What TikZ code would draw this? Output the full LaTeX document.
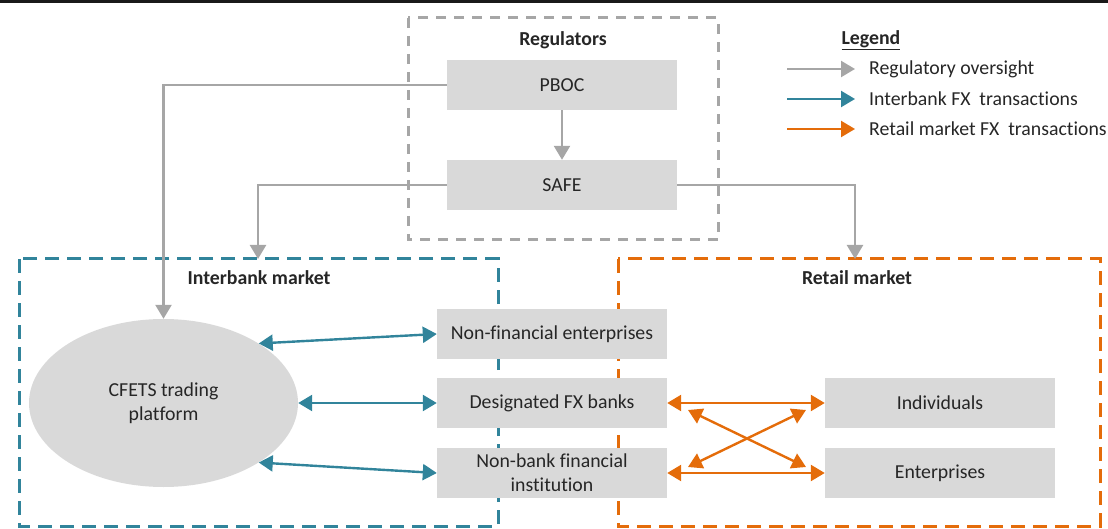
\documentclass[tikz,border=0pt]{standalone}
\usepackage{fontspec}
\setmainfont{Carlito}[Ligatures={NoCommon}]
\usetikzlibrary{arrows.meta,shapes.geometric}
\definecolor{grayarr}{HTML}{A6A6A6}
\definecolor{teal1}{HTML}{31849B}
\definecolor{orange1}{HTML}{E46C0A}
\definecolor{boxfill}{HTML}{D9D9D9}
\definecolor{txt}{HTML}{262626}
\tikzset{
  x=1pt,y=-1pt,
  every node/.style={font=\fontsize{19.8}{24}\selectfont,text=txt},
  gbox/.style={fill=boxfill,minimum width=230pt,minimum height=50pt,inner sep=0pt,align=center},
  lbl/.style={font=\fontsize{19.8}{24}\selectfont\bfseries},
  garr/.style={draw=grayarr,line width=2.4pt,-{Triangle[width=16pt,length=14pt]}},
  tarr/.style={draw=teal1,line width=2.4pt,{Triangle[width=16pt,length=14pt]}-{Triangle[width=16pt,length=14pt]}},
  oarr/.style={draw=orange1,line width=2.4pt,{Triangle[width=16pt,length=14pt]}-{Triangle[width=16pt,length=14pt]}},
  tlegend/.style={draw=teal1,line width=2.4pt,-{Triangle[width=16pt,length=14pt]}},
  olegend/.style={draw=orange1,line width=2.4pt,-{Triangle[width=16pt,length=14pt]}},
}
\begin{document}
\begin{tikzpicture}
\useasboundingbox (0,0) rectangle (1108,529);
\fill[black!90] (0,0) rectangle (1108,3);
% group frames
\draw[grayarr,line width=3pt,dash pattern=on 10pt off 8pt] (408,18) rectangle (718,240);
\draw[teal1,line width=3pt,dash pattern=on 14pt off 8pt] (19,259) rectangle (498,526);
\draw[orange1,line width=3pt,dash pattern=on 14pt off 8pt] (618,259) rectangle (1100,526);
\node[lbl] (regl) at (563,40) {Regulators};
\node[lbl] (ibl) at (259,278) {Interbank market};
\node[lbl] (rtl) at (857,278) {Retail market};
% boxes
\node[gbox] (pboc) at (562,85) {PBOC};
\node[gbox] (safe) at (562,185) {SAFE};
\node[ellipse,fill=boxfill,minimum width=269pt,minimum height=168pt,inner sep=0pt,align=center] (cfets) at (163.5,403) {CFETS trading\\platform};
\node[gbox] (nfe) at (552,334) {Non-financial enterprises};
\node[gbox] (dfx) at (552,403) {Designated FX banks};
\node[gbox] (nbfi) at (552,473) {Non-bank financial\\institution};
\node[gbox] (ind) at (940,403) {Individuals};
\node[gbox] (ent) at (940,473) {Enterprises};
% regulatory arrows
\coordinate (ibtop) at (258,259);
\coordinate (rttop) at (855,259);
\draw[garr] (pboc) -- (safe);
\draw[garr] (pboc.west) -| (cfets.north);
\draw[garr] (safe.west) -| (ibtop);
\draw[garr] (safe.east) -| (rttop);
% interbank
\draw[tarr] (cfets.32) -- (nfe.west);
\draw[tarr] (cfets.east) -- (dfx.west);
\draw[tarr] (cfets.-32) -- (nbfi.west);
% retail
\draw[oarr] (dfx.east) -- (ind.west);
\draw[oarr] (nbfi.east) -- (ent.west);
\coordinate (d1a) at (688,410);
\coordinate (d1b) at (806,467);
\coordinate (d2a) at (688,467);
\coordinate (d2b) at (806,410);
\draw[oarr] (d1a) -- (d1b);
\draw[oarr] (d2a) -- (d2b);
% legend
\node[lbl,anchor=west] (leg) at (838,40) {\underline{Legend}};
\coordinate (l1a) at (787,69); \coordinate (l1b) at (855,69);
\coordinate (l2a) at (787,99); \coordinate (l2b) at (855,99);
\coordinate (l3a) at (787,129); \coordinate (l3b) at (855,129);
\draw[garr] (l1a) -- (l1b);
\draw[tlegend] (l2a) -- (l2b);
\draw[olegend] (l3a) -- (l3b);
\node[anchor=west,inner sep=0pt] (t1) at (869,69) {Regulatory oversight};
\node[anchor=west,inner sep=0pt] (t2) at (869,99) {Interbank FX\ \ transactions};
\node[anchor=west,inner sep=0pt] (t3) at (869,129) {Retail market FX\ \ transactions};
\end{tikzpicture}
\end{document}
